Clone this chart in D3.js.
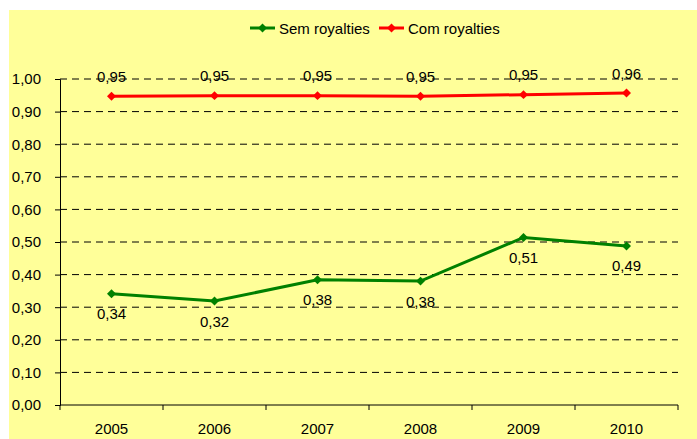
<!DOCTYPE html>
<html>
<head>
<meta charset="utf-8">
<script src="https://cdn.jsdelivr.net/npm/d3@7"></script>
<style>
  html, body { margin: 0; padding: 0; background: #ffffff; }
  svg { display: block; font-family: "Liberation Sans", Arial, sans-serif; }
</style>
</head>
<body>
<svg id="chart" width="697" height="439"></svg>
<script>
// Data
const years = ["2005", "2006", "2007", "2008", "2009", "2010"];
const semRoyalties = [0.341, 0.319, 0.384, 0.380, 0.514, 0.488];
const comRoyalties = [0.947, 0.949, 0.949, 0.947, 0.952, 0.957];
const yTicks = [0, 0.1, 0.2, 0.3, 0.4, 0.5, 0.6, 0.7, 0.8, 0.9, 1.0];
const seriesNames = ["Sem royalties", "Com royalties"];
const seriesColors = ["#008000", "#ff0000"];

const svg = d3.select("#chart");
const W = 697, H = 439;
const plot = { left: 60, right: 678, top: 79, bottom: 405 };
const fmt = v => d3.format(".2f")(v).replace(".", ",");

// Background panel
svg.append("rect")
  .attr("x", 9).attr("y", 10)
  .attr("width", W - 9).attr("height", H - 10)
  .attr("fill", "#ffff99");

const x = d3.scaleBand().domain(years).range([plot.left, plot.right]);
const y = d3.scaleLinear().domain([0, 1]).range([plot.bottom, plot.top]);

// Dashed horizontal gridlines
svg.append("g")
  .selectAll("line")
  .data(yTicks.filter(t => t > 0))
  .join("line")
  .attr("x1", plot.left).attr("x2", plot.right)
  .attr("y1", d => y(d)).attr("y2", d => y(d))
  .attr("stroke", "#000")
  .attr("stroke-width", 1)
  .attr("stroke-dasharray", "7,5");

// Y axis
const yAxis = svg.append("g")
  .attr("transform", `translate(${plot.left},0)`)
  .call(d3.axisLeft(y).tickValues(yTicks).tickFormat(fmt).tickSize(5).tickPadding(14));
yAxis.select(".domain").attr("stroke", "#000");
yAxis.selectAll("text").attr("font-size", 15).attr("fill", "#000");

// X axis: ticks on band boundaries, labels centered in bands
const xAxisG = svg.append("g").attr("transform", `translate(0,${plot.bottom})`);
xAxisG.append("line")
  .attr("x1", plot.left).attr("x2", plot.right)
  .attr("y1", 0).attr("y2", 0)
  .attr("stroke", "#000");
const bounds = years.map(d => x(d)).concat([x(years[years.length - 1]) + x.bandwidth()]);
xAxisG.selectAll("line.tk")
  .data(bounds)
  .join("line")
  .attr("class", "tk")
  .attr("x1", d => d).attr("x2", d => d)
  .attr("y1", 0).attr("y2", 5)
  .attr("stroke", "#000");
xAxisG.selectAll("text")
  .data(years)
  .join("text")
  .attr("x", d => x(d) + x.bandwidth() / 2)
  .attr("y", 23)
  .attr("dominant-baseline", "central")
  .attr("text-anchor", "middle")
  .attr("font-size", 15)
  .attr("fill", "#000")
  .text(d => d);

const cx = d => x(d) + x.bandwidth() / 2;
// Diamond marker: a square turned 45 degrees
const diamond = d3.symbol().type(d3.symbolSquare).size(40);

const series = [
  { name: seriesNames[0], values: semRoyalties, color: seriesColors[0], labelDy: 20 },
  { name: seriesNames[1], values: comRoyalties, color: seriesColors[1], labelDy: -20 }
];

series.forEach(s => {
  const pts = years.map((yr, i) => [cx(yr), y(s.values[i])]);
  svg.append("path")
    .datum(pts)
    .attr("d", d3.line())
    .attr("fill", "none")
    .attr("stroke", s.color)
    .attr("stroke-width", 3);
  svg.append("g")
    .selectAll("path")
    .data(pts)
    .join("path")
    .attr("d", diamond)
    .attr("transform", d => `translate(${d[0]},${d[1]}) rotate(45)`)
    .attr("fill", s.color);
  svg.append("g")
    .selectAll("text")
    .data(s.values)
    .join("text")
    .attr("x", (d, i) => cx(years[i]))
    .attr("y", d => y(d) + s.labelDy)
    .attr("dominant-baseline", "central")
    .attr("text-anchor", "middle")
    .attr("font-size", 15)
    .attr("fill", "#000")
    .text(fmt);
});

// Legend
const legend = svg.append("g").attr("transform", "translate(250,28)");
const legendItems = [
  { x: 0, name: seriesNames[0], color: seriesColors[0] },
  { x: 129, name: seriesNames[1], color: seriesColors[1] }
];
legendItems.forEach(it => {
  const g = legend.append("g").attr("transform", `translate(${it.x},0)`);
  g.append("line").attr("x1", 0).attr("x2", 25).attr("y1", 0).attr("y2", 0)
    .attr("stroke", it.color).attr("stroke-width", 3);
  g.append("path").attr("d", diamond).attr("transform", "translate(12.5,0) rotate(45)").attr("fill", it.color);
  g.append("text").attr("x", 29).attr("y", 0)
    .attr("dominant-baseline", "central")
    .attr("font-size", 15).attr("fill", "#000")
    .text(it.name);
});
</script>
</body>
</html>
